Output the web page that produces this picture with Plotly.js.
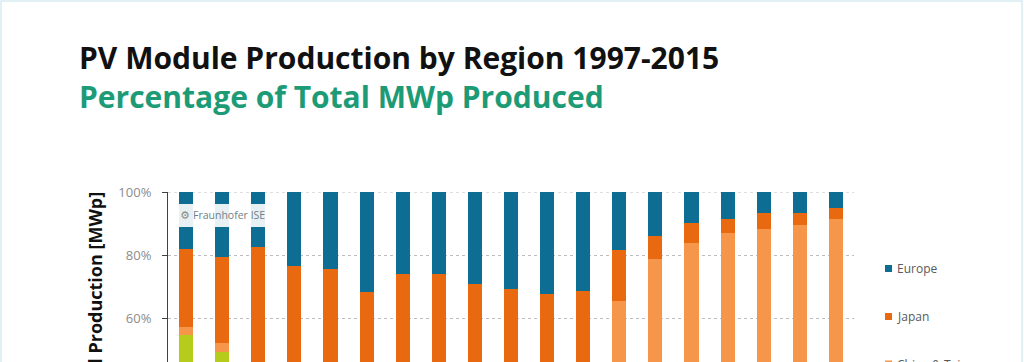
<!DOCTYPE html>
<html>
<head>
<meta charset="utf-8">
<script src="https://cdn.plot.ly/plotly-3.0.1.min.js"></script>
<style>
  html, body { margin: 0; padding: 0; background: #ffffff; overflow: hidden; }
  #chart { width: 1024px; height: 362px; }
</style>
</head>
<body>
<div id="chart"></div>
<script>
// ---- Data (percent of total MWp produced) ----
const years = ['1997','1998','1999','2000','2001','2002','2003','2004','2005','2006',
               '2007','2008','2009','2010','2011','2012','2013','2014','2015'];
const europe      = [18.1, 20.5, 17.5, 23.3, 24.3, 31.6, 25.8, 26.1, 29.0, 30.7, 32.3, 31.2, 18.5, 13.8,  9.8,  8.4,  6.8,  6.5,  5.1];
const japan       = [24.5, 27.2, 44.0, 43.0, 45.0, 42.0, 48.0, 50.0, 46.0, 37.0, 26.0, 25.0, 15.9,  7.4,  6.2,  4.6,  5.0,  3.9,  3.5];
const chinaTaiwan = [ 2.6,  2.8,  3.0,  2.0,  2.0,  3.0,  4.0,  6.0, 10.0, 18.0, 27.0, 30.0, 50.0, 60.0, 66.0, 68.0, 67.0, 69.0, 71.0];
const northAmerica= [50.8, 45.0, 32.0, 27.0, 24.0, 19.0, 17.0, 13.0, 10.0,  8.0,  7.0,  6.0,  6.0,  6.0,  5.0,  4.0,  3.0,  3.0,  2.0];
const restAsiaPac = [ 4.0,  4.5,  3.5,  4.7,  4.7,  4.4,  5.2,  4.9,  5.0,  6.3,  7.7,  7.8,  9.6, 12.8, 13.0, 15.0, 18.2, 17.6, 18.4];

const seriesNames  = ['Europe', 'Japan', 'China & Taiwan', 'North America', 'Rest of Asia-Pacific & Central Asia'];
const seriesValues = [europe, japan, chinaTaiwan, northAmerica, restAsiaPac];
const seriesColors = ['#0e6d93', '#e8690f', '#f5964b', '#b6cc1a', '#8fa3ad'];

const yTickVals  = [60, 80, 100];
const yTickText  = ['60%', '80%', '100%'];

const titleText    = 'PV Module Production by Region 1997-2015';
const subtitleText = 'Percentage of Total MWp Produced';

// ---- Layout geometry (pixels) ----
const W = 1024, H = 362;
const L = 168, R = 854, T = 192, B = 362;
const pw = R - L, ph = B - T;
const px = x => (x - L) / pw;
const py = y => (B - y) / ph;

// Traces: stack bottom -> top (reverse of legend order)
const traces = [];
for (let i = seriesNames.length - 1; i >= 0; i--) {
  traces.push({
    type: 'bar',
    name: seriesNames[i],
    x: years,
    y: seriesValues[i],
    marker: { color: seriesColors[i], line: { width: 0 } },
    showlegend: false,
    hoverinfo: 'x+y+name'
  });
}

const annotations = [
  { text: '<b>' + titleText + '</b><br><b><span style="color:#1d9b76">' + subtitleText + '</span></b>',
    xref: 'paper', yref: 'paper', align: 'left',
    x: px(77), y: py(35), xanchor: 'left', yanchor: 'top', showarrow: false,
    font: { family: 'Open Sans, sans-serif', size: 30, color: '#111111' } },
  { text: '<b>Annual Production [MWp]</b>', xref: 'paper', yref: 'paper', textangle: -90,
    x: px(94), y: py(190), xanchor: 'center', yanchor: 'top', showarrow: false,
    font: { family: 'Open Sans, sans-serif', size: 18, color: '#111111' } },
  { text: 'Fraunhofer ISE', xref: 'paper', yref: 'paper',
    x: px(191), y: py(215), xanchor: 'left', yanchor: 'middle', showarrow: false,
    font: { family: 'Open Sans, sans-serif', size: 10.5, color: '#6f7f88' } }
];

// Manual legend
const legendY = [268.5, 316.5, 364];
const shapes = [
  // faint frame
  { type: 'rect', xref: 'paper', yref: 'paper', x0: px(1), x1: px(1022), y0: py(380), y1: py(1),
    line: { color: '#d8ecf1', width: 1.5 }, fillcolor: 'rgba(0,0,0,0)', layer: 'below' },
  // 100% dotted gridline
  { type: 'line', xref: 'paper', yref: 'y', x0: 0, x1: 1, y0: 100, y1: 100,
    line: { color: '#bdbdbd', width: 1, dash: 'dot' }, layer: 'below' },
  // watermark box
  { type: 'rect', xref: 'paper', yref: 'paper', x0: px(178), x1: px(267), y0: py(227), y1: py(204),
    line: { width: 0 }, fillcolor: 'rgba(255,255,255,0.9)', layer: 'above' }
];
for (let i = 0; i < 3; i++) {
  shapes.push({ type: 'rect', xref: 'paper', yref: 'paper',
    x0: px(885), x1: px(892), y0: py(legendY[i] + 3.5), y1: py(legendY[i] - 3.5),
    line: { width: 0 }, fillcolor: seriesColors[i] });
  annotations.push({ text: seriesNames[i], xref: 'paper', yref: 'paper',
    x: px(895), y: py(legendY[i]), xanchor: 'left', yanchor: 'middle', showarrow: false,
    font: { family: 'Open Sans, sans-serif', size: 12, color: '#595959' } });
}
// watermark logo glyph
annotations.push({ text: '\u2699', xref: 'paper', yref: 'paper',
  x: px(185), y: py(215), xanchor: 'center', yanchor: 'middle', showarrow: false,
  font: { family: 'DejaVu Sans, sans-serif', size: 11, color: '#7f8c93' } });

const layout = {
  width: W, height: H,
  margin: { l: L, r: W - R, t: T, b: H - B, pad: 0 },
  paper_bgcolor: '#ffffff', plot_bgcolor: '#ffffff',
  barmode: 'stack', bargap: 0.61,
  showlegend: false,
  xaxis: { type: 'category', range: [-0.5, 18.5], showticklabels: false, ticks: '',
           showgrid: false, zeroline: false, showline: false, fixedrange: true },
  yaxis: { range: [46.2, 100], tickvals: yTickVals, ticktext: yTickText,
           tickfont: { family: 'Open Sans, sans-serif', size: 13, color: '#8c8c8c' },
           ticks: 'outside', ticklen: 5, tickcolor: '#404040', tickwidth: 1,
           showline: true, linecolor: '#404040', linewidth: 1,
           showgrid: true, gridcolor: '#bdbdbd', griddash: 'dot', gridwidth: 1,
           zeroline: false, ticklabelstandoff: 8, fixedrange: true },
  annotations: annotations,
  shapes: shapes
};

Plotly.newPlot('chart', traces, layout, { displayModeBar: false, staticPlot: true });
</script>
</body>
</html>
